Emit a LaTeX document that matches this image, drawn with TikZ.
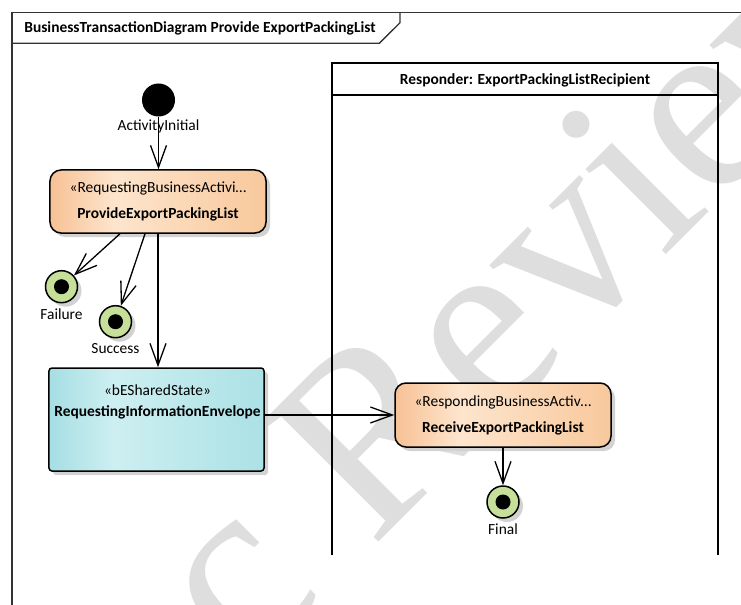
\documentclass[tikz,border=0pt]{standalone}
\usepackage{fontspec}
\setmainfont{Carlito}
\newfontfamily\markfont{Liberation Serif}
\usepackage{tikz}
\usetikzlibrary{calc}
\usetikzlibrary{arrows.meta}
\usetikzlibrary{shadows}

\definecolor{actedge}{HTML}{F7C195}
\definecolor{actlight}{HTML}{FDE5CD}
\definecolor{actdark}{HTML}{F8C89C}
\definecolor{stateedge}{HTML}{A6DEE3}
\definecolor{statelight}{HTML}{CDEFF1}
\definecolor{statedark}{HTML}{ABE1E5}
\definecolor{finalgreen}{HTML}{C6E09A}
\definecolor{shadowgrey}{HTML}{D2D2D2}
\definecolor{markgrey}{HTML}{DEDEDE}
\definecolor{framegrey}{HTML}{333333}

\pgfdeclarehorizontalshading{activityshade}{100bp}{color(0bp)=(actedge); color(25bp)=(actedge); color(40bp)=(actlight); color(75bp)=(actdark); color(100bp)=(actdark)}
\pgfdeclarehorizontalshading{stateshade}{100bp}{color(0bp)=(stateedge); color(25bp)=(stateedge); color(40bp)=(statelight); color(75bp)=(statedark); color(100bp)=(statedark)}

\tikzset{
  flow/.style={line width=1.3bp, -{Straight Barb[length=22bp,width=16bp]}},
  boxshadow/.style={drop shadow={shadow xshift=4bp, shadow yshift=-4bp, fill=shadowgrey, opacity=1}},
  activity/.style={draw=black, line width=1.5bp, rounded corners=11bp, shading=activityshade,
    minimum width=216bp, minimum height=63bp, inner sep=0pt, align=center, boxshadow},
  sharedstate/.style={draw=black, line width=1.5bp, rounded corners=3bp, shading=stateshade,
    minimum width=215bp, minimum height=103bp, inner sep=0pt, boxshadow},
  initialnode/.style={circle, fill=black, minimum size=33bp, inner sep=0pt},
  finalnode/.style={circle, draw=black, line width=1.5bp, fill=finalgreen,
    minimum size=32bp, inner sep=0pt, boxshadow,
    path picture={\fill[black] (path picture bounding box.center) circle (7.5bp);}},
  watermark/.style={text=markgrey, font=\markfont\fontsize{256}{256}\selectfont,
    inner sep=0pt, rotate=45}
}

\begin{document}
\begin{tikzpicture}[x=1bp, y=-1bp, font=\fontsize{15.5}{19}\selectfont]
            \useasboundingbox (0,0) rectangle (741,605);
            \clip (0,0) rectangle (741,605);

            % Drawing watermark
            \node [watermark, anchor=base west] (markRight) at (372.0,549.0) {Review};%
            \node [watermark, anchor=base east] (markLeft) at (326.7,594.3) {c};%

            % Drawing diagram frame
            \draw [line width=1.3bp, draw=framegrey] (12.0,620.0) -- (12.0,12.7) -- (760.0,12.7);%
            \draw [line width=1.3bp, draw=framegrey] (12.0,43.3) -- (379.3,43.3) -- (400.0,22.7) -- (400.0,12.7);%
            \node [font=\fontsize{15.5}{19}\selectfont\bfseries] (frameTitle) at (200.0,28.0) {BusinessTransactionDiagram Provide ExportPackingList};%

            % Drawing swimlane Responder
            \draw [line width=2bp] (332.0,555.0) -- (332.0,63.0) -- (717.5,63.0) -- (717.5,555.0);%
            \draw [line width=2bp] (332.0,95.0) -- (717.5,95.0);%
            \node [font=\fontsize{15.5}{19}\selectfont\bfseries] (laneHeader) at (525.0,80.0) {Responder: ExportPackingListRecipient};%

            % Drawing initial node
            \node [initialnode, label={[label distance=0bp]below:ActivityInitial}] (initial) at (158.5,100.0) {};%

            % Drawing activity ProvideExportPackingList
            \node [activity] (provide) at (158.0,201.5) {«RequestingBusinessActivi…\\[7bp]\textbf{ProvideExportPackingList}};%

            % Drawing final nodes Failure and Success
            \node [finalnode, label={[label distance=1.5bp]below:Failure}] (failure) at (61.5,286.7) {};%
            \node [finalnode, label={[label distance=1.5bp]below:Success}] (success) at (115.5,321.7) {};%

            % Drawing shared state RequestingInformationEnvelope
            \node [sharedstate] (envelope) at (156.5,419.5) {};%
            \node [align=center] (envelopeText) at (157.5,401.5) {«bESharedState»\\[2bp]\textbf{RequestingInformationEnvelope}};%

            % Drawing activity ReceiveExportPackingList
            \node [activity, minimum height=64bp] (receive) at (503.0,415.0) {«RespondingBusinessActiv…\\[7bp]\textbf{ReceiveExportPackingList}};%

            % Drawing final node Final
            \node [finalnode, label={[label distance=1.5bp]below:Final}] (final) at (503.0,502.0) {};%

            % Drawing control flows
            \draw [flow] (initial) -- (initial |- provide.north);%
            \draw [flow] ([xshift=-38bp]provide.south) -- (failure);%
            \draw [flow] ([xshift=-13bp]provide.south) -- (success);%
            \draw [flow] (provide.south) -- (provide.south |- envelope.north);%
            \draw [flow] (envelope.east |- receive.west) -- (receive.west);%
            \draw [flow] (receive.south) -- (final);%
\end{tikzpicture}
\end{document}
